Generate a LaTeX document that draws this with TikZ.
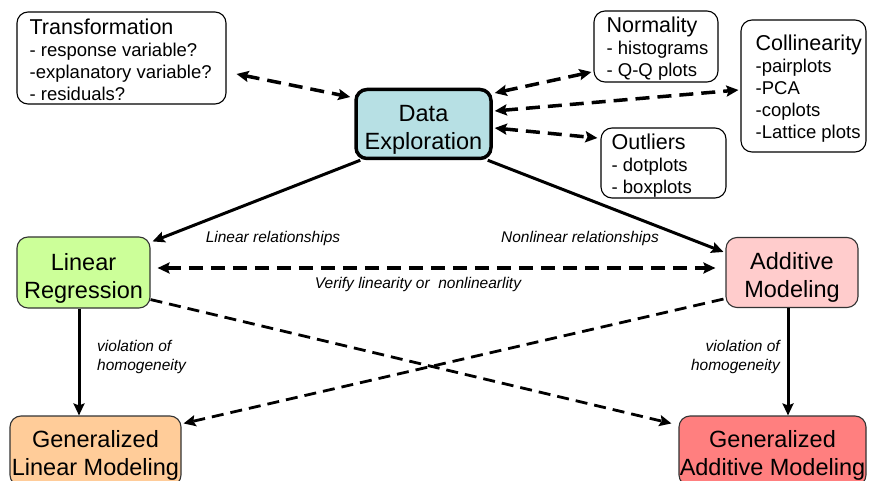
\documentclass[tikz,border=0pt]{standalone}
\usepackage{fontspec}
\setmainfont{Liberation Sans}
\usetikzlibrary{arrows.meta,calc}
\definecolor{deblue}{HTML}{B7E0E4}
\definecolor{lrgreen}{HTML}{CCFF99}
\definecolor{ampink}{HTML}{FFCCCC}
\definecolor{glmorange}{HTML}{FFCC99}
\definecolor{gamred}{HTML}{FF7F7F}
% heading size inside the list boxes
\newcommand{\boxhead}[1]{{\fontsize{21.5}{23}\selectfont #1}}
\tikzset{
  x=1pt, y=-1pt,
  listbox/.style={draw=black, line width=1.1pt, rounded corners=11pt, inner sep=0pt},
  listtext/.style={anchor=west, align=left, inner sep=0pt,
    font=\fontsize{18.5}{22}\selectfont},
  modelbox/.style={draw=black!80, line width=1.1pt, rounded corners=11pt, inner sep=0pt},
  modeltext/.style={align=center, inner sep=0pt, font=\fontsize{23.5}{28}\selectfont},
  tip/.style={-{Stealth[length=12pt,width=11pt,inset=2pt]}},
  bitip/.style={{Stealth[length=12pt,width=11pt,inset=2pt]}-{Stealth[length=12pt,width=11pt,inset=2pt]}},
  solidarrow/.style={tip, line width=3pt},
  thickdash/.style={line width=3.5pt, dash pattern=on 14pt off 8pt},
  thindash/.style={line width=2.8pt, dash pattern=on 12pt off 7pt},
  lbl/.style={font=\fontsize{15.5}{19}\selectfont\itshape, inner sep=0pt},
}
\begin{document}
\begin{tikzpicture}
\useasboundingbox (0,0) rectangle (878,481);
\clip (0,0) rectangle (878,481);

% side boxes with their check lists
\node[listbox, minimum width=209pt, minimum height=92pt] (trans) at (121.5,58) {};
\node[listtext] (transtxt) at ($(trans.west)+(13,2)$)
  {\boxhead{Transformation}\\- response variable?\\-explanatory variable?\\- residuals?};
\node[listbox, minimum width=124pt, minimum height=71pt] (norm) at (656,46.5) {};
\node[listtext] (normtxt) at ($(norm.west)+(13,2.5)$)
  {\boxhead{Normality}\\- histograms\\- Q-Q plots};
\node[listbox, minimum width=125pt, minimum height=132pt] (coll) at (803.5,86) {};
\node[listtext] (colltxt) at ($(coll.west)+(15,2.5)$)
  {\boxhead{Collinearity}\\-pairplots\\-PCA\\-coplots\\-Lattice plots};
\node[listbox, minimum width=125pt, minimum height=70pt] (outl) at (663.5,163) {};
\node[listtext] (outltxt) at ($(outl.west)+(11,2.5)$)
  {\boxhead{Outliers}\\- dotplots\\- boxplots};

% central and model boxes
\node[modelbox, draw=black, line width=3.5pt, fill=deblue, minimum width=135pt, minimum height=69pt] (de) at (423.5,124) {};
\node[modeltext] (detxt) at ($(de.center)+(0,6)$) {Data\\Exploration};
\node[modelbox, fill=lrgreen, minimum width=133pt, minimum height=71pt] (lr) at (83.5,272.5) {};
\node[modeltext] (lrtxt) at ($(lr.center)+(0,6)$) {Linear\\Regression};
\node[modelbox, fill=ampink, minimum width=132pt, minimum height=70pt] (am) at (792,272.5) {};
\node[modeltext] (amtxt) at ($(am.center)+(0,5)$) {Additive\\Modeling};
\node[modelbox, fill=glmorange, minimum width=171pt, minimum height=70pt] (glm) at (95.5,451) {};
\node[modeltext] (glmtxt) at ($(glm.center)+(0,4)$) {Generalized\\Linear Modeling};
\node[modelbox, fill=gamred, minimum width=187pt, minimum height=70pt] (gam) at (772.5,451) {};
\node[modeltext] (gamtxt) at ($(gam.center)+(0,4)$) {Generalized\\Additive Modeling};

% exploration checks
\draw[bitip, thickdash] ($(trans.east)+(10,16)$) -- ($(de.west)+(-4,-27)$);
\draw[bitip, thickdash] ($(de.east)+(2,-31)$) -- ($(norm.west)+(-2,25.5)$);
\draw[bitip, thickdash] ($(de.east)+(2,-13)$) -- ($(coll.west)+(-2,4)$);
\draw[bitip, thickdash] ($(de.east)+(2,4)$) -- ($(outl.west)+(-3,-25)$);

% model choice
\draw[solidarrow] ($(de.south west)+(6,0)$) -- ($(lr.north east)+(2,5)$);
\draw[solidarrow] ($(de.south east)+(-5,0)$) -- ($(am.north west)+(-2,15)$);
\draw[bitip, thickdash] ($(lr.east)+(7,-4.5)$) -- ($(am.west)+(-10,-4.5)$);
\draw[tip, thindash] ($(lr.south east)+(0,-9)$) -- ($(gam.north west)+(-7,8)$);
\draw[tip, thindash] ($(am.south west)+(-2,-9)$) -- ($(glm.north east)+(2,8)$);
\draw[solidarrow] ($(lr.south)+(-4.5,0)$) -- ($(glm.north)+(-16.5,0)$);
\draw[solidarrow] ($(am.south)+(-4,0)$) -- ($(gam.north)+(15.5,0)$);

% labels
\node[lbl] (l1) at (273,238) {Linear relationships};
\node[lbl] (l2) at (580,238) {Nonlinear relationships};
\node[lbl] (l3) at (418,284) {Verify linearity or\ \ nonlinearlity};
\node[lbl, anchor=west, align=left] (l4) at (97,357) {violation of\\homogeneity};
\node[lbl, anchor=east, align=right] (l5) at (780,357) {violation of\\homogeneity};
\end{tikzpicture}
\end{document}
